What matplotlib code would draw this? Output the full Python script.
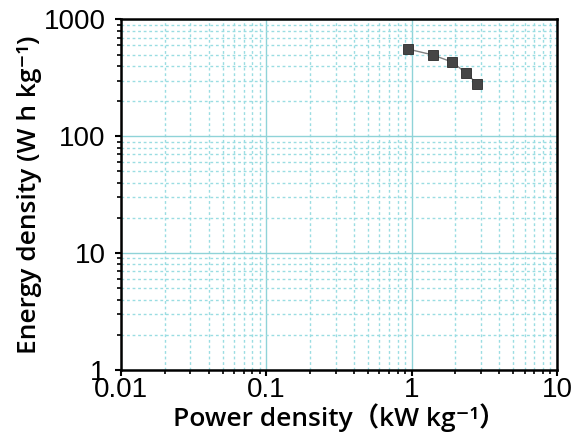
import matplotlib
matplotlib.use('Agg')
import matplotlib.pyplot as plt
from matplotlib.ticker import LogLocator, FixedLocator, FixedFormatter, NullFormatter

plt.rcParams['font.family'] = ['Liberation Sans', 'Noto Sans CJK SC', 'DejaVu Sans']

power = [0.94, 1.40, 1.90, 2.37, 2.82]        # kW kg-1
energy = [559, 497, 432, 348, 281]            # W h kg-1

xticks = [0.01, 0.1, 1, 10]
xticklabels = ['0.01', '0.1', '1', '10']
yticks = [1, 10, 100, 1000]
yticklabels = ['1', '10', '100', '1000']

fig = plt.figure(figsize=(5.79, 4.43), dpi=100)
ax = fig.add_axes([0.209, 0.165, 0.753, 0.791])

ax.plot(power, energy, '-', color='#808080', lw=1.0, zorder=3)
ax.plot(power, energy, 's', ms=6.5, mfc='#454545', mec='#2a2a2a', mew=0.6, zorder=4)

ax.set_xscale('log')
ax.set_yscale('log')
ax.set_xlim(0.01, 10)
ax.set_ylim(1, 1000)

ax.xaxis.set_major_locator(FixedLocator(xticks))
ax.xaxis.set_major_formatter(FixedFormatter(xticklabels))
ax.yaxis.set_major_locator(FixedLocator(yticks))
ax.yaxis.set_major_formatter(FixedFormatter(yticklabels))
ax.xaxis.set_minor_locator(LogLocator(base=10, subs=range(2, 10)))
ax.yaxis.set_minor_locator(LogLocator(base=10, subs=range(2, 10)))
ax.xaxis.set_minor_formatter(NullFormatter())
ax.yaxis.set_minor_formatter(NullFormatter())

ax.grid(True, which='major', color='#8fd3d8', lw=1.0, ls='-')
ax.grid(True, which='minor', color='#9adde2', lw=1.0, ls=(0, (2, 2)))
ax.set_axisbelow(True)

for s in ax.spines.values():
    s.set_linewidth(1.8)
    s.set_color('black')

ax.tick_params(which='major', direction='out', length=4, width=1.5, labelsize=20)
ax.tick_params(axis='y', which='major', pad=7)
ax.tick_params(axis='x', which='major', pad=1)
ax.tick_params(which='minor', direction='out', length=3, width=1.2)

lab_font = ['Open Sans', 'Noto Sans CJK SC', 'DejaVu Sans']
ax.set_xlabel('Power density（kW kg⁻¹）', fontsize=19, fontweight='semibold',
              family=lab_font, labelpad=0)
ax.set_ylabel('Energy density (W h kg⁻¹)', fontsize=19, fontweight='semibold',
              family=lab_font, labelpad=1)

fig.savefig('out.png', dpi=100)
